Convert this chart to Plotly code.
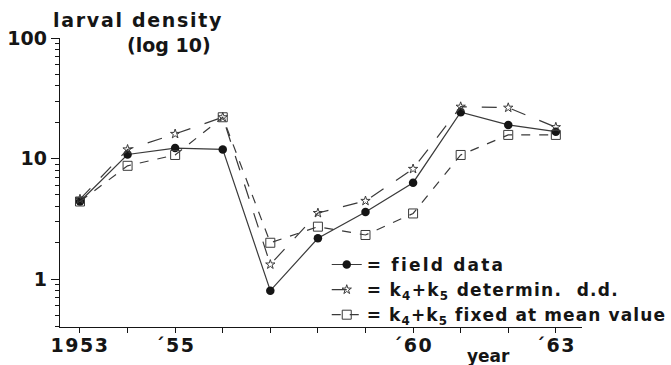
import plotly.graph_objects as go

years = [1953, 1954, 1955, 1956, 1957, 1958, 1959, 1960, 1961, 1962, 1963]
field_data = [4.4, 10.8, 12.2, 11.9, 0.80, 2.18, 3.6, 6.3, 24.2, 19.0, 16.7]
k45_dd = [4.6, 11.9, 16.0, 22.0, 1.32, 3.53, 4.45, 8.2, 26.9, 26.4, 18.2]
k45_fixed = [4.4, 8.7, 10.7, 22.0, 2.0, 2.72, 2.32, 3.5, 10.7, 15.7, 15.7]

x_tickvals = [1953, 1955, 1960, 1963]
x_ticktext = ["1953", "´55", "´60", "´63"]
x_minor = [1954, 1956, 1957, 1958, 1959, 1961, 1962]
y_tickvals = [1, 10, 100]
y_ticktext = ["1", "10", "100"]
y_minor = [0.4, 0.5, 0.6, 0.7, 0.8, 0.9, 2, 3, 4, 5, 6, 7, 8, 9,
           20, 30, 40, 50, 60, 70, 80, 90]

FONT = "DejaVu Sans"
INK = "#151515"
LINE = "#3a3a3a"


def spaced(s, px):
    return '<span style="letter-spacing:%spx">%s</span>' % (px, s)


fig = go.Figure()
fig.add_trace(go.Scatter(
    x=years, y=field_data, mode="lines+markers",
    name=spaced("= field data", 2.2),
    line=dict(color=LINE, width=1.2, dash="solid"),
    marker=dict(symbol="circle", size=8.5, color=INK),
))
fig.add_trace(go.Scatter(
    x=years, y=k45_dd, mode="lines+markers",
    name=spaced("= k<sub>4</sub>+k<sub>5</sub> determin.  d.d.", 1.3),
    line=dict(color=LINE, width=1.2, dash="longdash"),
    marker=dict(symbol="star-open", size=7, color=LINE, line=dict(width=1)),
))
fig.add_trace(go.Scatter(
    x=years, y=k45_fixed, mode="lines+markers",
    name=spaced("= k<sub>4</sub>+k<sub>5</sub> fixed at mean value", 1.1),
    line=dict(color=LINE, width=1.2, dash="dash"),
    marker=dict(symbol="square-open", size=9, color=LINE, line=dict(width=1)),
))

fig.update_layout(
    width=671, height=365,
    margin=dict(l=60, r=89, t=38, b=38, autoexpand=False),
    paper_bgcolor="white", plot_bgcolor="white",
    font=dict(family=FONT, color=INK, size=18, weight="bold"),
    showlegend=True,
    legend=dict(
        x=0.511, y=0.277, xanchor="left", yanchor="top",
        bgcolor="rgba(0,0,0,0)", borderwidth=0,
        font=dict(family=FONT, size=17, color=INK, weight="bold"),
        tracegroupgap=0, itemwidth=30,
    ),
    xaxis=dict(
        range=[1952.58, 1963.55], tickmode="array",
        tickvals=x_tickvals, ticktext=[spaced(t, 1.5) for t in x_ticktext],
        ticks="outside", ticklen=5, tickwidth=1.2, tickcolor=INK,
        ticklabelstandoff=-4,
        minor=dict(tickmode="array", tickvals=x_minor, ticks="outside",
                   ticklen=5, tickwidth=1.2, tickcolor=INK, showgrid=False),
        showline=True, linecolor=INK, linewidth=1.4,
        showgrid=False, zeroline=False,
        tickfont=dict(family=FONT, size=19, color=INK, weight="bold"),
    ),
    yaxis=dict(
        type="log", range=[-0.398, 2.0], tickmode="array",
        tickvals=y_tickvals, ticktext=y_ticktext,
        ticks="outside", ticklen=8, tickwidth=1.2, tickcolor=INK,
        minor=dict(tickmode="array", tickvals=y_minor, ticks="outside",
                   ticklen=4, tickwidth=1, tickcolor=INK, showgrid=False),
        showline=True, linecolor=INK, linewidth=1.4,
        showgrid=False, zeroline=False,
        tickfont=dict(family=FONT, size=19, color=INK, weight="bold"),
    ),
    annotations=[
        dict(text=spaced("larval density", 1.7), xref="paper", yref="paper",
             x=-0.018, y=1.062, showarrow=False, xanchor="left", yanchor="middle",
             font=dict(family=FONT, size=19, color=INK, weight="bold")),
        dict(text="(log 10)", xref="paper", yref="paper",
             x=0.124, y=0.976, showarrow=False, xanchor="left", yanchor="middle",
             font=dict(family=FONT, size=19, color=INK, weight="bold")),
        dict(text="year", xref="paper", yref="paper",
             x=0.776, y=-0.1, showarrow=False, xanchor="left", yanchor="middle",
             font=dict(family=FONT, size=17, color=INK, weight="bold")),
    ],
)

fig.write_html("out.html")
